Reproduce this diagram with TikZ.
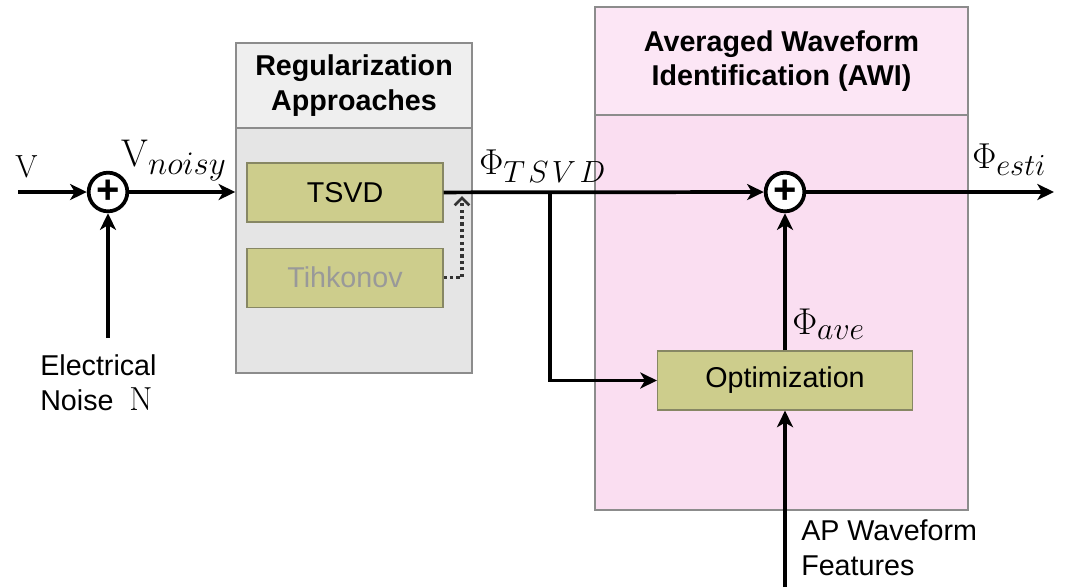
\documentclass[tikz,border=0pt]{standalone}
\usepackage{fix-cm}
\usepackage{fontspec}
\newfontfamily\arialish{Liberation Sans}
\renewcommand\defaultscriptratio{.85}
\usetikzlibrary{arrows.meta,positioning}

\definecolor{olivebox}{RGB}{205,205,140}
\definecolor{olivedraw}{RGB}{135,135,100}
\definecolor{greyhead}{RGB}{239,239,239}
\definecolor{greybody}{RGB}{229,229,229}
\definecolor{pinkhead}{RGB}{252,230,245}
\definecolor{pinkbody}{RGB}{250,222,241}
\definecolor{groupline}{RGB}{140,140,140}

\begin{document}
\begin{tikzpicture}[x=0.75pt,y=-0.75pt,
  sig/.style={line width=2.8pt,-{Stealth[length=12.5pt,width=12pt,inset=3.5pt]}},
  dotsig/.style={line width=2.4pt,black!80,dash pattern=on 2.4pt off 2.4pt,
    -{Straight Barb[length=5.5pt,width=11pt,line width=2pt]}},
  groupbox/.style={draw=groupline,line width=1.1pt,inner sep=0pt},
  grouphead/.style={groupbox,align=center,
    font=\arialish\bfseries\fontsize{21.5}{26}\selectfont},
  algobox/.style={draw=olivedraw,fill=olivebox,line width=0.8pt,
    minimum height=44.25pt,inner sep=0pt,
    font=\arialish\fontsize{21.5}{26}\selectfont},
  sumnode/.style={circle,draw,line width=2.8pt,fill=white,minimum size=29pt,
    inner sep=0pt,font=\arialish\bfseries\fontsize{30}{30}\selectfont},
  lbl/.style={align=left,inner sep=0pt,
    font=\arialish\fontsize{21.5}{26}\selectfont},
  mathlbl/.style={inner sep=0pt,anchor=base west}]
\useasboundingbox (0,0) rectangle (1067,587);

% groups
\node[groupbox,fill=greybody,minimum width=177pt,minimum height=247.5pt]
  (reg) at (354,208) {};
\node[grouphead,fill=greyhead,minimum width=177pt,minimum height=63.75pt,
  anchor=north] (reghead) at (reg.north) {Regularization\\Approaches};

\node[groupbox,fill=pinkbody,minimum width=279.75pt,minimum height=377.25pt]
  (awi) at (781.5,258.5) {};
\node[grouphead,fill=pinkhead,minimum width=279.75pt,minimum height=81pt,
  anchor=north] (awihead) at (awi.north) {Averaged Waveform\\Identification (AWI)};

% blocks
\node[algobox,minimum width=147pt] (tsvd) at (345,192.5) {TSVD};
\node[algobox,minimum width=147pt,text=black!40,below=18.75pt of tsvd] (tihk) {Tihkonov};
\node[algobox,minimum width=191.25pt] (opt) at (785,380.5) {Optimization};

\node[sumnode] (sumin) at (108,192) {+};
\node[sumnode] (sumawi) at (785,192) {+};

% free ends
\coordinate (vin) at (18,192);
\coordinate (noisein) at (108,338);
\coordinate (branch) at (550,192);
\coordinate (tikhin) at (462,196);
\coordinate (apin) at (785,587);
\coordinate (estout) at (1054,192);

% connectors
\draw[sig] (vin) -- (sumin);
\draw[sig] (noisein) -- (sumin);
\draw[sig] (sumin) -- (reg.west |- sumin);
\draw[sig] (tsvd) -- (sumawi);
\draw[sig] (branch) |- (opt);
\draw[dotsig] (tihk) -| (tikhin);
\draw[sig] (opt) -- (sumawi);
\draw[sig] (apin) -- (opt);
\draw[sig] (sumawi) -- (estout);

% labels
\node[mathlbl,font=\fontsize{24}{26}\selectfont] (vlab) at (15,177) {V};
\node[mathlbl,font=\fontsize{29}{30}\selectfont] (vnoisylab) at (121,166) {$\mathrm{V}_{noisy}$};
\node[mathlbl,font=\fontsize{27}{28}\selectfont] (phitsvd) at (479,174) {$\Phi_{T\mkern2mu S\mkern2mu V\mkern2mu D}$};
\node[mathlbl,font=\fontsize{27}{28}\selectfont] (phiesti) at (972,168) {$\Phi_{esti}$};
\node[mathlbl,font=\fontsize{28}{28}\selectfont] (phiave) at (792,334) {$\Phi_{ave}$};

\node[lbl,anchor=base west] (noiselab) at (40,410)
  {Electrical\\Noise\ \ {\rmfamily\fontsize{25}{26}\selectfont N}};
\node[lbl,anchor=base west] (aplab) at (801,575) {AP Waveform\\Features};
\end{tikzpicture}
\end{document}
